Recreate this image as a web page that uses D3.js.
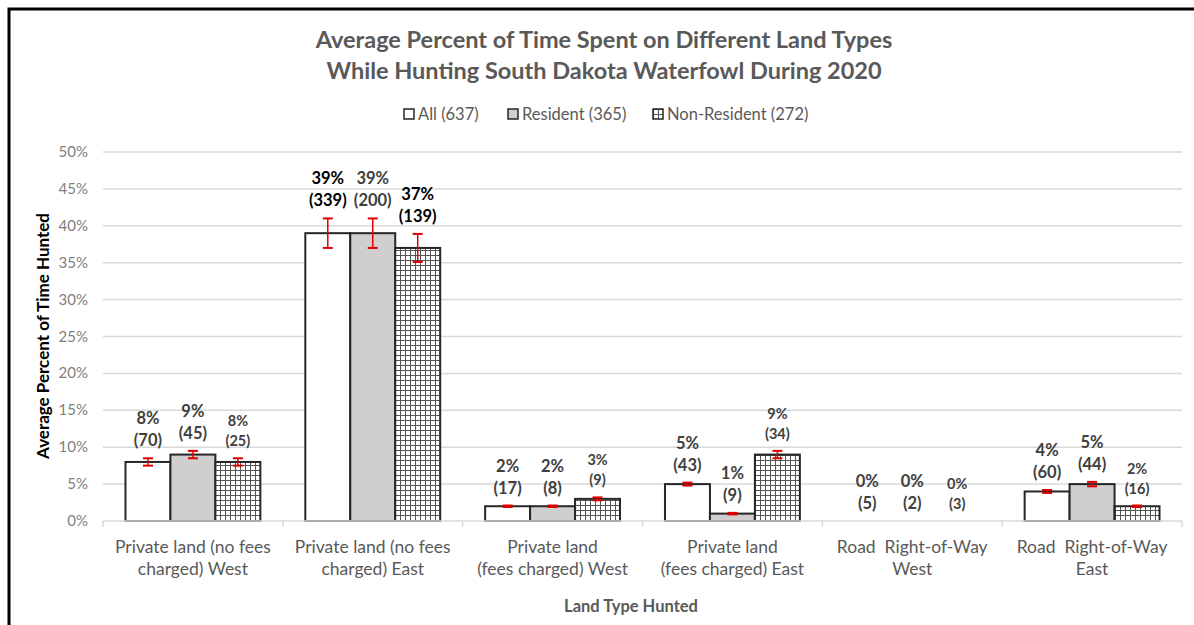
<!DOCTYPE html>
<html><head><meta charset="utf-8">
<script src="https://cdn.jsdelivr.net/npm/d3@7"></script>
<style>body{margin:0;background:#fff;} svg{display:block;font-family:Lato,"Open Sans",sans-serif;}</style>
</head><body><svg id="c" width="1194" height="625"></svg>
<script>
const categories = [
  ["Private land (no fees", "charged) West"],
  ["Private land (no fees", "charged) East"],
  ["Private land", "(fees charged) West"],
  ["Private land", "(fees charged) East"],
  ["Road  Right-of-Way", "West"],
  ["Road  Right-of-Way", "East"]
];
const seriesNames = ["All (637)", "Resident (365)", "Non-Resident (272)"];
const allVals = [8, 39, 2, 5, 0, 4];
const resVals = [9, 39, 2, 1, 0, 5];
const nonVals = [8, 37, 3, 9, 0, 2];
const allN = [70, 339, 17, 43, 5, 60];
const resN = [45, 200, 8, 9, 2, 44];
const nonN = [25, 139, 9, 34, 3, 16];
const allErr = [0.5, 2, 0.1, 0.2, 0, 0.2];
const resErr = [0.5, 2, 0.1, 0.1, 0, 0.3];
const nonErr = [0.5, 1.9, 0.2, 0.5, 0, 0.1];
const yTicks = [0, 5, 10, 15, 20, 25, 30, 35, 40, 45, 50];

const svg = d3.select("#c");
const defs = svg.append("defs");
const pat = defs.append("pattern").attr("id","hatch").attr("patternUnits","userSpaceOnUse")
  .attr("width",5).attr("height",5);
pat.append("rect").attr("width",5).attr("height",5).attr("fill","#fff");
pat.append("path").attr("d","M0,0.5H5M0.5,0V5").attr("stroke","#555").attr("stroke-width",1);

// border
svg.append("path").attr("d","M9,625V9H1194").attr("fill","none").attr("stroke","#000").attr("stroke-width",3);

const pL = 103, pR = 1182, pT = 152, pB = 521;
const x0 = d3.scaleBand().domain(d3.range(categories.length)).range([pL, pR]).paddingInner(0.25).paddingOuter(0.125);
const xOuter = d3.scaleBand().domain(d3.range(categories.length)).range([pL, pR]);
const x1 = d3.scaleBand().domain([0,1,2]).range([0, x0.bandwidth()]);
const y = d3.scaleLinear().domain([0, 50]).range([pB, pT]);

// grid
svg.append("g").selectAll("line").data(yTicks.filter(t=>t>0)).join("line")
  .attr("x1",pL).attr("x2",pR).attr("y1",d=>y(d)).attr("y2",d=>y(d))
  .attr("stroke","#d9d9d9").attr("stroke-width",1.5);

// y axis labels
svg.append("g").selectAll("text").data(yTicks).join("text")
  .attr("x",88).attr("y",d=>y(d)+5).attr("text-anchor","end")
  .attr("fill","#7f7f7f").attr("font-size",15).text(d=>d+"%");

const series = [
  {vals: allVals, n: allN, err: allErr, fill: "#fff"},
  {vals: resVals, n: resN, err: resErr, fill: "#d0cece"},
  {vals: nonVals, n: nonN, err: nonErr, fill: "url(#hatch)"}
];

series.forEach((s, si) => {
  const g = svg.append("g");
  g.selectAll("rect").data(s.vals.map((v,i)=>({v,i}))).join("rect")
    .attr("x", d=>x0(d.i)+x1(si)).attr("width", x1.bandwidth())
    .attr("y", d=>y(d.v)).attr("height", d=>y(0)-y(d.v))
    .attr("fill", s.fill).attr("stroke", d=>d.v>0?"#262626":"none").attr("stroke-width",2);
  // error bars
  const eb = g.selectAll("g.eb").data(s.vals.map((v,i)=>({v,i,e:s.err[i]})).filter(d=>d.v>0)).join("g");
  eb.each(function(d){
    const cx = x0(d.i)+x1(si)+x1.bandwidth()/2;
    const sel = d3.select(this);
    const yt = y(d.v+d.e), yb = y(d.v-d.e);
    sel.append("line").attr("x1",cx).attr("x2",cx).attr("y1",yt).attr("y2",yb).attr("stroke","#e00000").attr("stroke-width",1.5);
    sel.append("line").attr("x1",cx-5).attr("x2",cx+5).attr("y1",yt).attr("y2",yt).attr("stroke","#e00000").attr("stroke-width",2);
    sel.append("line").attr("x1",cx-5).attr("x2",cx+5).attr("y1",yb).attr("y2",yb).attr("stroke","#e00000").attr("stroke-width",2);
  });
  // labels
  s.vals.forEach((v,i)=>{
    const cx = x0(i)+x1(si)+x1.bandwidth()/2;
    const small = si===2 && i!==1;
    const fs = small ? 14.5 : 16.5;
    const base = y(v + s.err[i]) - 12;
    const dark = i===1 && si!==1;
    const col = dark ? "#000" : "#404040";
    const lh = small ? 20 : 22;
    g.append("text").attr("x",cx).attr("y",base).attr("text-anchor","middle")
      .attr("font-size",fs).attr("font-weight","bold").attr("fill",col).text("("+s.n[i]+")");
    g.append("text").attr("x",cx).attr("y",base-lh).attr("text-anchor","middle")
      .attr("font-size",fs).attr("font-weight","bold").attr("fill",col).text(v+"%");
  });
});

// x axis line and ticks
svg.append("line").attr("x1",pL).attr("x2",pR).attr("y1",pB).attr("y2",pB).attr("stroke","#d9d9d9").attr("stroke-width",1.5);
svg.append("g").selectAll("line").data(d3.range(categories.length+1)).join("line")
  .attr("x1",d=>d<categories.length?xOuter(d):pR).attr("x2",d=>d<categories.length?xOuter(d):pR)
  .attr("y1",pB).attr("y2",pB+6).attr("stroke","#d9d9d9").attr("stroke-width",1.5);

// category labels
const cl = svg.append("g").selectAll("text").data(categories).join("text")
  .attr("text-anchor","middle").attr("fill","#595959").attr("font-size",17.5);
cl.each(function(d,i){
  const t = d3.select(this);
  const cx = x0(i)+x0.bandwidth()/2;
  d.forEach((line,j)=>t.append("tspan").attr("x",cx).attr("y",553+j*22).style("white-space","pre").text(line));
});

// axis titles
svg.append("text").attr("x",631).attr("y",612).attr("text-anchor","middle").attr("font-size",16.5)
  .attr("font-weight","bold").attr("fill","#595959").text("Land Type Hunted");
svg.append("text").attr("transform","translate(49,336) rotate(-90)").attr("text-anchor","middle").attr("font-size",17)
  .attr("font-weight","bold").attr("fill","#000").text("Average Percent of Time Hunted");

// title
svg.append("text").attr("x",604).attr("y",48).attr("text-anchor","middle").attr("font-size",23.5)
  .attr("font-weight","bold").attr("fill","#595959").text("Average Percent of Time Spent on Different Land Types");
svg.append("text").attr("x",604).attr("y",79).attr("text-anchor","middle").attr("font-size",23.5)
  .attr("font-weight","bold").attr("fill","#595959").text("While Hunting South Dakota Waterfowl During 2020");

// legend
const legX = [404, 508, 653];
const leg = svg.append("g").selectAll("g").data(seriesNames).join("g")
  .attr("transform",(d,i)=>`translate(${legX[i]},109)`);
leg.append("rect").attr("width",10).attr("height",10).attr("fill",(d,i)=>series[i].fill).attr("stroke","#262626").attr("stroke-width",1.5);
leg.append("text").attr("x",14).attr("y",11).attr("font-size",16.5).attr("fill","#595959").text(d=>d);
</script></body></html>
